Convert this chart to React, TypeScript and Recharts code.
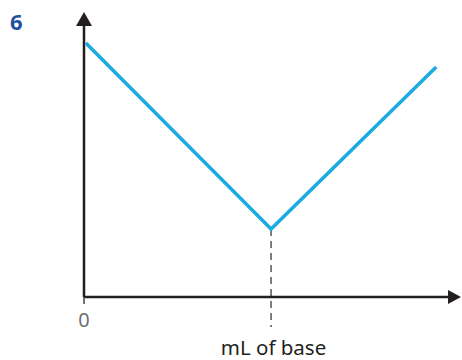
import React from 'react';
import { LineChart, Line, XAxis, YAxis, ReferenceLine, ReferenceDot } from 'recharts';

const xValues = [0.1, 10.25, 19.3];
const yValues = [93.4, 25, 84.6];
const equivalenceX = 10.25;
const equivalenceY = 25;
const dashBottom = -11;
const xTicks = [0];
const xLabel = 'mL of base';
const questionNumber = '6';

const data = xValues.map((x, i) => ({ x, y: yValues[i] }));

const AXIS = '#231F20';

const UpArrow = (props: any) => {
  const { cx, cy } = props;
  return <path d={`M${cx} ${cy - 13} L${cx + 8} ${cy + 1} L${cx - 8} ${cy + 1} Z`} fill={AXIS} />;
};

const RightArrow = (props: any) => {
  const { cx, cy } = props;
  return <path d={`M${cx + 12} ${cy} L${cx - 1} ${cy - 7} L${cx - 1} ${cy + 7} Z`} fill={AXIS} />;
};

export default function App() {
  return (
    <div style={{ position: 'absolute', left: 0, top: 0, width: 462, height: 360, background: '#fff' }}>
      <div
        style={{
          position: 'absolute',
          left: 10,
          top: 10,
          fontFamily: '"Noto Sans", sans-serif',
          fontWeight: 700,
          fontSize: 22,
          lineHeight: 1,
          color: '#1F4FA0',
        }}
      >
        {questionNumber}
      </div>
      <LineChart
        width={462}
        height={360}
        data={data}
        margin={{ top: 25, right: 13, bottom: 0, left: 84 }}
        style={{ fontFamily: '"Noto Sans", sans-serif' }}
      >
        <XAxis
          dataKey="x"
          type="number"
          domain={[0, 20]}
          ticks={xTicks}
          height={63}
          axisLine={{ stroke: AXIS, strokeWidth: 2.5 }}
          tickLine={{ stroke: '#444', strokeWidth: 1.5 }}
          tickSize={7}
          tickMargin={9}
          tick={{ fill: '#6D6E71', fontSize: 20 }}
          label={{ value: xLabel, position: 'insideBottom', offset: 5, dx: 7, fill: '#231F20', fontSize: 20.5 }}
        />
        <YAxis type="number" domain={[0, 100]} width={0} hide />
        <ReferenceLine x={0} stroke={AXIS} strokeWidth={2.5} ifOverflow="visible" />
        <ReferenceLine
          segment={[{ x: equivalenceX, y: equivalenceY }, { x: equivalenceX, y: dashBottom }]}
          stroke="#555"
          strokeWidth={1.5}
          strokeDasharray="7 5"
          ifOverflow="visible"
        />
        <ReferenceDot x={0} y={100} ifOverflow="visible" shape={UpArrow} />
        <ReferenceDot x={20} y={0} ifOverflow="visible" shape={RightArrow} />
        <Line
          type="linear"
          dataKey="y"
          stroke="#1BAAE2"
          strokeWidth={3.5}
          dot={false}
          activeDot={false}
          isAnimationActive={false}
        />
      </LineChart>
    </div>
  );
}
